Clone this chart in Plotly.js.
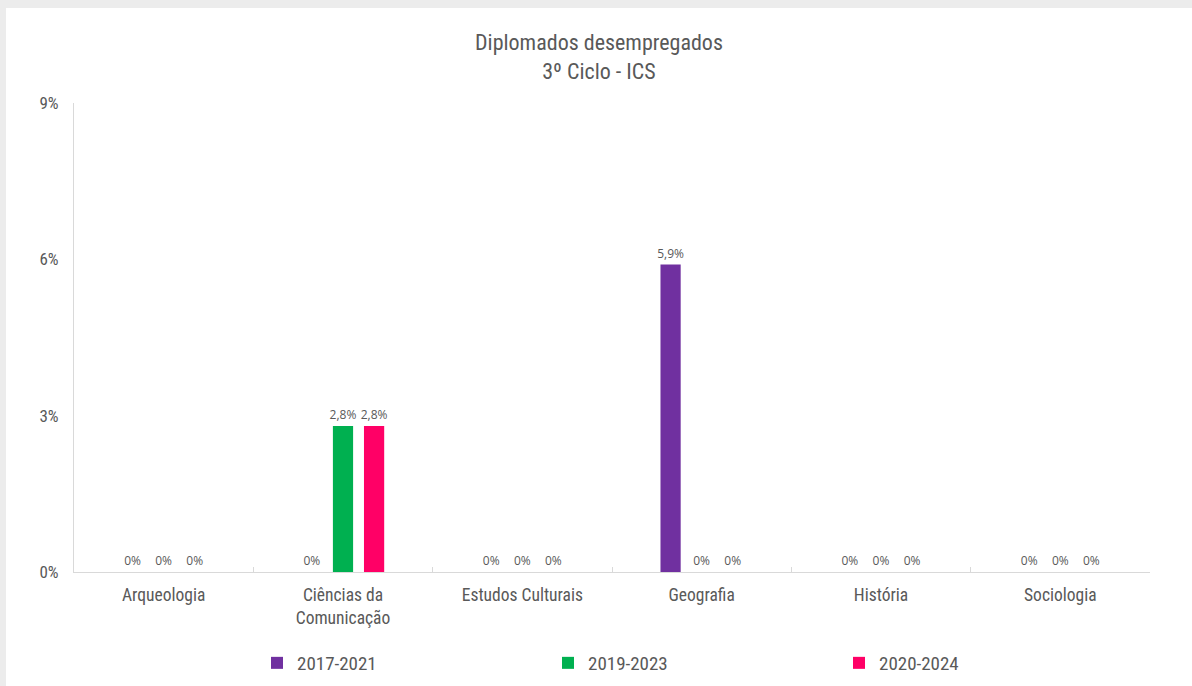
<!DOCTYPE html>
<html>
<head>
<meta charset="utf-8">
<script src="https://cdn.plot.ly/plotly-3.0.1.min.js"></script>
<style>
  html, body { margin: 0; padding: 0; width: 1192px; height: 686px; background: #ececec; overflow: hidden; }
  #chart { position: absolute; left: 6px; top: 8px; width: 1186px; height: 678px; background: #ffffff; }
</style>
</head>
<body>
<div id="chart"></div>
<script>
const categories = ["Arqueologia", "Ciências da<br>Comunicação", "Estudos Culturais", "Geografia", "História", "Sociologia"];
const series = ["2017-2021", "2019-2023", "2020-2024"];
const values2017 = [0, 0, 0, 5.9, 0, 0];
const values2019 = [0, 2.8, 0, 0, 0, 0];
const values2020 = [0, 2.8, 0, 0, 0, 0];
const colors = ["#7030a0", "#00b050", "#ff0066"];
const yTicks = [0, 3, 6, 9];

const condensed = "'Liberation Sans Narrow', 'Arial Narrow', 'Roboto Condensed', 'Liberation Sans', sans-serif";
const txtColor = "#595959";

function fmt(v) {
  return (v === 0 ? "0" : v.toFixed(1).replace(".", ",")) + "%";
}

const allValues = [values2017, values2019, values2020];
const traces = series.map((name, i) => ({
  type: "bar",
  name: name,
  x: categories,
  y: allValues[i],
  marker: { color: colors[i], line: { width: 10, color: "rgba(0,0,0,0)" } },
  text: allValues[i].map(fmt),
  textposition: "outside",
  constraintext: "none",
  cliponaxis: false,
  textfont: { family: "'Open Sans', sans-serif", size: 12, color: txtColor },
  hoverinfo: "skip"
}));

const layout = {
  width: 1186,
  height: 678,
  paper_bgcolor: "#ffffff",
  plot_bgcolor: "#ffffff",
  margin: { l: 68, r: 42, t: 95, b: 114 },
  barmode: "group",
  bargap: 0.48,
  bargroupgap: 0.35,
  title: {
    text: "Diplomados desempregados<br>3º Ciclo - ICS",
    font: { family: condensed, size: 22, color: txtColor },
    x: 0.5, xanchor: "center",
    y: 0.938, yanchor: "middle", yref: "container"
  },
  xaxis: {
    type: "category",
    showline: true, linecolor: "#d9d9d9", linewidth: 1,
    ticks: "inside", tickson: "boundaries", ticklen: 5, tickcolor: "#d9d9d9",
    tickfont: { family: condensed, size: 17.5, color: txtColor },
    ticklabelstandoff: 7,
    showgrid: false, zeroline: false,
    automargin: false,
    fixedrange: true
  },
  yaxis: {
    range: [0, 9],
    tickvals: yTicks,
    ticktext: yTicks.map(v => v + "%"),
    showline: true, linecolor: "#d9d9d9", linewidth: 1,
    ticks: "", showgrid: false, zeroline: false,
    tickfont: { family: condensed, size: 17, color: txtColor },
    ticklabelstandoff: 11,
    automargin: false,
    fixedrange: true
  },
  legend: {
    orientation: "h",
    xref: "container", yref: "container",
    x: 251 / 1186, xanchor: "left",
    y: 1 - 655 / 678, yanchor: "middle",
    entrywidth: 246, entrywidthmode: "pixels",
    font: { family: condensed, size: 19, color: txtColor },
    itemclick: false, itemdoubleclick: false
  },
  showlegend: true
};

Plotly.newPlot("chart", traces, layout, { displayModeBar: false, staticPlot: true });
</script>
</body>
</html>
